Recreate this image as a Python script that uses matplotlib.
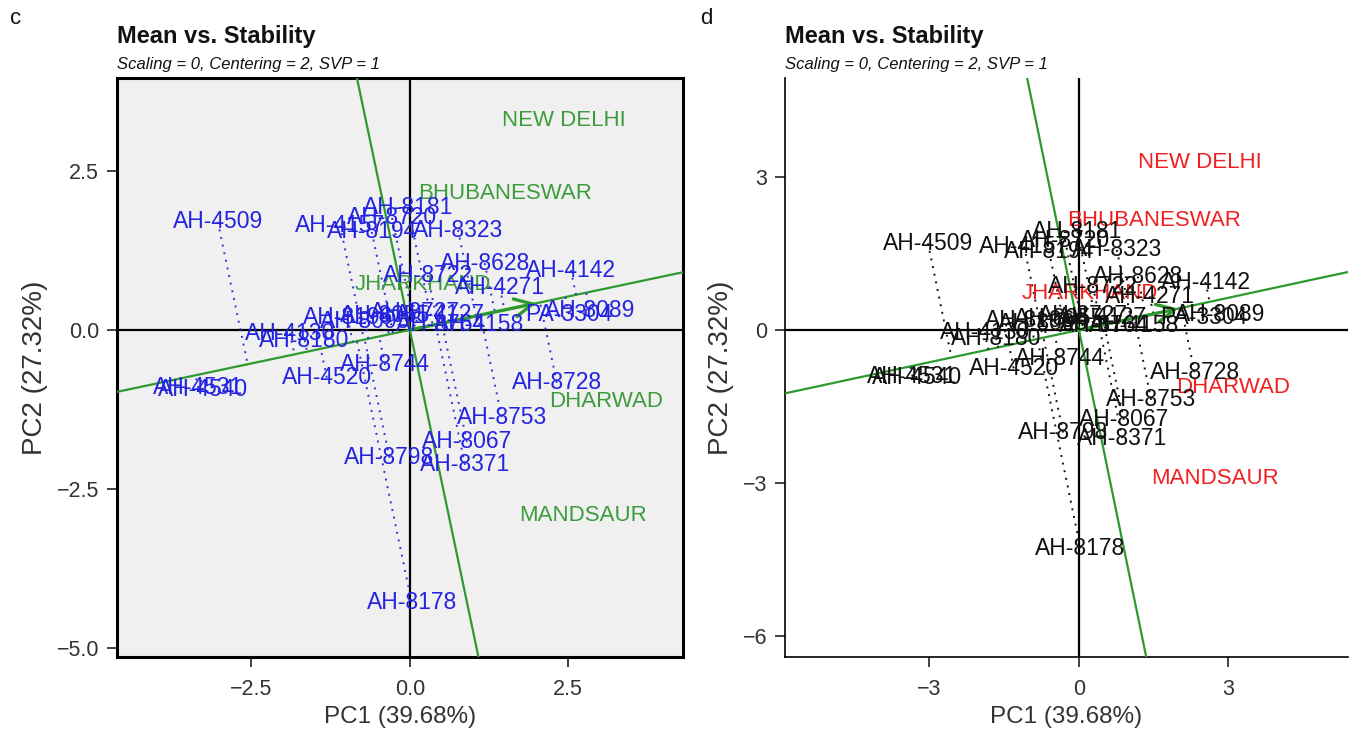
import numpy as np
import matplotlib
matplotlib.use("Agg")
import matplotlib.pyplot as plt

plt.rcParams['font.family'] = ['Liberation Sans', 'DejaVu Sans']

# Genotype scores (PC1, PC2)
genotypes = ["AH-4509", "AH-4157", "AH-8194", "AH-8720", "AH-8181", "AH-8323",
             "AH-8722", "AH-8628", "AH-4142", "AH-4271", "AH-8089", "PA-3304",
             "AH-4158", "AH-4127", "AH-8727", "AH-8196", "AH-8055", "AH-8764",
             "AH-4130", "AH-8180", "AH-8095", "AH-8744", "AH-4520", "AH-8728",
             "AH-8753", "AH-8067", "AH-8371", "AH-8798", "AH-8178", "AH-4531",
             "AH-4540"]
gen_pc1 = [-3.03, -1.10, -0.60, -0.28, -0.03, 0.76,
           0.28, 1.18, 2.54, 1.42, 2.84, 2.51,
           1.10, 0.47, 0.08, -0.98, -0.39, 0.50,
           -1.89, -1.66, -0.71, -0.39, -1.31, 2.32,
           1.45, 0.90, 0.87, -0.32, 0.03, -3.34,
           -3.26]
gen_pc2 = [1.70, 1.64, 1.54, 1.76, 1.93, 1.57,
           0.86, 1.05, 0.94, 0.66, 0.31, 0.25,
           0.08, 0.25, 0.28, 0.19, 0.22, 0.08,
           -0.05, -0.16, 0.13, -0.55, -0.75, -0.83,
           -1.37, -1.76, -2.12, -2.01, -4.28, -0.91,
           -0.94]

# Environment scores
environments = ["NEW DELHI", "BHUBANESWAR", "JHARKHAND", "DHARWAD", "MANDSAUR"]
env_pc1 = [2.43, 1.50, 0.21, 3.09, 2.74]
env_pc2 = [3.29, 2.14, 0.71, -1.13, -2.91]

title = "Mean vs. Stability"
subtitle = "Scaling = 0, Centering = 2, SVP = 1"
xlab = "PC1 (39.68%)"
ylab = "PC2 (27.32%)"

c_xticks = [-2.5, 0.0, 2.5]
c_yticks = [2.5, 0.0, -2.5, -5.0]
d_xticks = [-3, 0, 3]
d_yticks = [3, 0, -3, -6]

W, H = 1354, 730
fig = plt.figure(figsize=(W / 100, H / 100), dpi=100)


def draw_panel(rect, xlim, ylim, xticks, yticks, tickfmt, gen_col, env_col,
               dot_col, bg, boxed, letter, letter_x):
    ax = fig.add_axes(rect)
    ax.set_xlim(*xlim)
    ax.set_ylim(*ylim)
    ax.set_facecolor(bg)
    gx = np.array(gen_pc1)
    gy = np.array(gen_pc2)
    ex = np.array(env_pc1)
    ey = np.array(env_pc2)
    mx, my = ex.mean(), ey.mean()
    u = np.array([mx, my]) / np.hypot(mx, my)
    green = '#2e9a2e'
    ax.axhline(0, color='black', lw=1.6, zorder=2)
    ax.axvline(0, color='black', lw=1.6, zorder=2)
    ax.axline((0, 0), slope=my / mx, color=green, lw=1.6, zorder=3)
    ax.axline((0, 0), slope=-mx / my, color=green, lw=1.6, zorder=3)
    for x, y in zip(gx, gy):
        d = x * u[0] + y * u[1]
        ax.plot([x, d * u[0]], [y, d * u[1]], color=dot_col, ls=(0, (1, 3)),
                lw=1.4, zorder=3)
    ax.annotate('', xy=(mx, my), xytext=(0, 0),
                arrowprops=dict(arrowstyle='->', color=green, lw=2.4,
                                mutation_scale=32, shrinkA=0, shrinkB=0),
                zorder=4)
    for name, x, y in zip(environments, ex, ey):
        ax.text(x, y, name, color=env_col, fontsize=16, ha='center',
                va='center', zorder=5)
    for name, x, y in zip(genotypes, gx, gy):
        ax.text(x, y, name, color=gen_col, fontsize=16.5, ha='center',
                va='center', zorder=6)
    ax.set_xticks(xticks)
    ax.set_yticks(yticks)
    ax.set_xticklabels([tickfmt(t) for t in xticks])
    ax.set_yticklabels([tickfmt(t) for t in yticks])
    ax.tick_params(direction='out', length=7, width=1.2, labelsize=15.5,
                   colors='#222222', labelcolor='#333333')
    ax.tick_params(axis='x', pad=9)
    ax.tick_params(axis='y', pad=6)
    if boxed:
        for s in ax.spines.values():
            s.set_linewidth(2.2)
            s.set_color('black')
    else:
        ax.spines['top'].set_visible(False)
        ax.spines['right'].set_visible(False)
        ax.spines['left'].set_linewidth(1.2)
        ax.spines['bottom'].set_linewidth(1.2)
    ax.set_xlabel(xlab, fontsize=17.5, color='#333333', labelpad=4)
    ax.set_ylabel(ylab, fontsize=20, color='#333333', labelpad=6)
    x0 = rect[0]
    fig.text(x0, 1 - 37 / H, title, fontsize=17, fontweight='bold',
             ha='left', va='center', color='#111111')
    fig.text(x0, 1 - 64 / H, subtitle, fontsize=12, style='italic',
             ha='left', va='center', color='#111111')
    fig.text(letter_x, 1 - 18 / H, letter, fontsize=16, ha='left',
             va='center', color='#111111')
    return ax


def fmt_c(t):
    return f"{t:.1f}".replace('-', '\u2212')


def fmt_d(t):
    return f"{t:d}".replace('-', '\u2212')


draw_panel([117 / W, 1 - 657 / H, 566 / W, 579 / H], (-4.62, 4.31),
           (-5.14, 3.96), c_xticks, c_yticks, fmt_c, '#2424e0', '#3c9c3c',
           '#3030e0', '#f0f0f0', True, 'c', 10 / W)
draw_panel([785 / W, 1 - 657 / H, 563 / W, 579 / H], (-5.90, 5.40),
           (-6.41, 4.94), d_xticks, d_yticks, fmt_d, '#111111', '#f02020',
           '#111111', 'white', False, 'd', 700 / W)

fig.savefig('out.png', dpi=100)
